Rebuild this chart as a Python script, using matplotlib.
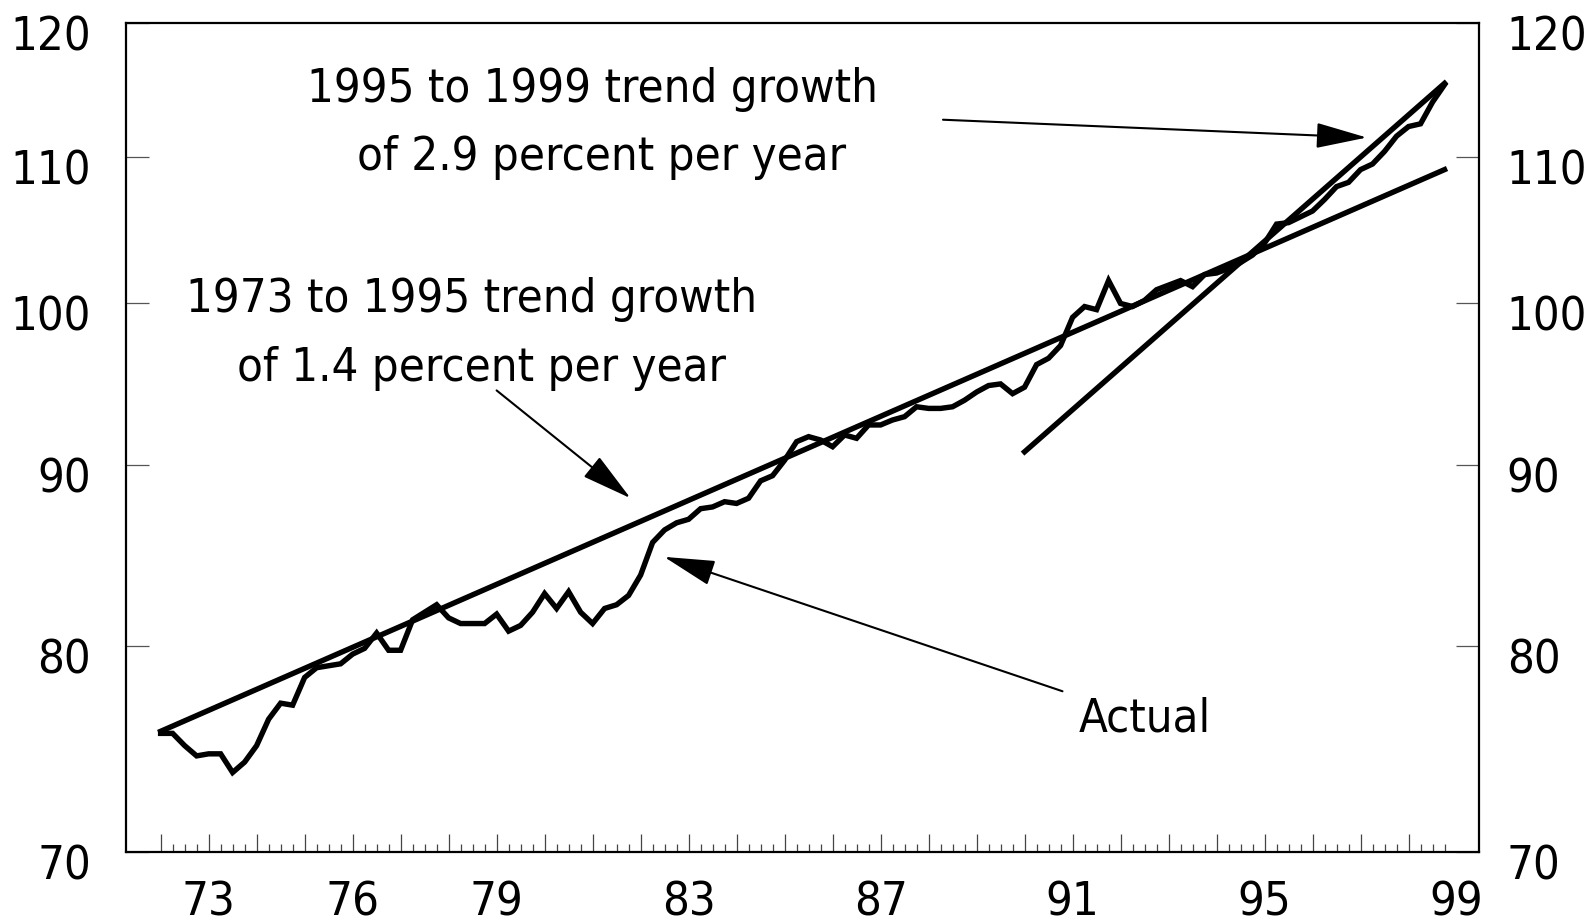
import os
import numpy as np
import matplotlib
matplotlib.use("Agg")
import matplotlib.pyplot as plt
from matplotlib import font_manager
from matplotlib.ticker import NullLocator
from matplotlib.transforms import ScaledTranslation

# quarterly productivity index, 1972Q1 .. 1998Q4 (log scale)
quarters = np.arange(1972, 1999, 0.25)
actual = [
    75.6, 75.6, 75.0, 74.5,     # 1972
    74.6, 74.6, 73.7, 74.2,     # 1973
    75.0, 76.3, 77.1, 77.0,     # 1974
    78.4, 78.9, 79.0, 79.1,     # 1975
    79.6, 79.9, 80.7, 79.8,     # 1976
    79.8, 81.4, 81.8, 82.2,     # 1977
    81.5, 81.2, 81.2, 81.2,     # 1978
    81.7, 80.8, 81.1, 81.8,     # 1979
    82.8, 82.0, 82.9, 81.8,     # 1980
    81.2, 82.0, 82.2, 82.7,     # 1981
    83.8, 85.6, 86.3, 86.7,     # 1982
    86.9, 87.5, 87.6, 87.9,     # 1983
    87.8, 88.1, 89.1, 89.4,     # 1984
    90.3, 91.4, 91.7, 91.5,     # 1985
    91.1, 91.8, 91.6, 92.4,     # 1986
    92.4, 92.7, 92.9, 93.5,     # 1987
    93.4, 93.4, 93.5, 93.9,     # 1988
    94.4, 94.8, 94.9, 94.3,     # 1989
    94.7, 96.1, 96.5, 97.3,     # 1990
    99.1, 99.8, 99.6, 101.5,    # 1991
    100.0, 99.8, 100.2, 100.9,  # 1992
    101.2, 101.5, 101.1, 101.9, # 1993
    102.0, 102.3, 102.7, 103.2, # 1994
    104.0, 105.3, 105.4, 105.8, # 1995
    106.2, 107.0, 107.9, 108.2, # 1996
    109.1, 109.5, 110.4, 111.5, # 1997
    112.2, 112.4, 114.0, 115.3, # 1998
]

# trend lines (constant growth -> straight on log axis)
trend_7395_years = [1972.0, 1998.75]
trend_7395_values = [75.7, 109.1]
trend_9599_years = [1990.0, 1998.75]
trend_9599_values = [90.8, 115.4]

year_ticks = np.arange(1972, 1999)
quarter_ticks = np.arange(1972, 1998.76, 0.25)
label_years = [1973, 1976, 1979, 1983, 1987, 1991, 1995, 1999]
label_text = ["73", "76", "79", "83", "87", "91", "95", "99"]
y_ticks = [70, 80, 90, 100, 110, 120]

# narrow sans face if there is one, plain DejaVu otherwise
cond = [f.fname for f in font_manager.fontManager.ttflist
        if os.path.basename(f.fname) == "DejaVuSansCondensed.ttf"]
if cond:
    font = font_manager.FontProperties(fname=cond[0], size=33.8)
else:
    font = font_manager.FontProperties(family="DejaVu Sans", size=30.4)

fig = plt.figure(figsize=(15.9, 9.23), dpi=100)
ax = fig.add_axes([0.0792, 0.0773, 0.8509, 0.8975])

ax.plot(quarters, actual, color="black", lw=3.9, solid_joinstyle="miter")
ax.plot(trend_7395_years, trend_7395_values, color="black", lw=3.9)
ax.plot(trend_9599_years, trend_9599_values, color="black", lw=3.9)

ax.set_yscale("log")
ax.set_ylim(70, 120)
ax.set_xlim(1971.277, 1999.465)

for s in ax.spines.values():
    s.set_linewidth(1.6)

ax.set_yticks(y_ticks, labels=[str(v) for v in y_ticks])
ax.yaxis.set_minor_locator(NullLocator())
ax.tick_params(axis="y", which="major", direction="in", length=16.8, width=0.9,
               color="#555555", left=True, right=True, labelleft=True,
               labelright=True, pad=20)

ax.set_xticks(year_ticks)
ax.set_xticks(quarter_ticks, minor=True)
ax.tick_params(axis="x", which="major", direction="in", length=12.7, width=0.9,
               color="#444444", labelbottom=False)
ax.tick_params(axis="x", which="minor", direction="in", length=6, width=0.9,
               color="#444444")

sec = ax.secondary_xaxis("bottom")
sec.set_xticks(label_years, labels=label_text)
sec.tick_params(length=0, pad=21)
sec.spines["bottom"].set_visible(False)
for lab in sec.get_xticklabels():
    lab.set_fontproperties(font)

# y labels sit a bit below their ticks
down = ScaledTranslation(0, -10 / 100, fig.dpi_scale_trans)
left_shift = ScaledTranslation(-7 / 100, -10 / 100, fig.dpi_scale_trans)
for t in ax.yaxis.get_major_ticks():
    t.label1.set_fontproperties(font)
    t.label2.set_fontproperties(font)
    t.label1.set_transform(t.label1.get_transform() + left_shift)
    t.label2.set_transform(t.label2.get_transform() + down)

ax.text(1980.99, 114.0, "1995 to 1999 trend growth", fontproperties=font,
        ha="center", va="baseline")
ax.text(1981.19, 109.1, "of 2.9 percent per year", fontproperties=font,
        ha="center", va="baseline")
ax.text(1978.47, 99.45, "1973 to 1995 trend growth", fontproperties=font,
        ha="center", va="baseline")
ax.text(1978.69, 95.1, "of 1.4 percent per year", fontproperties=font,
        ha="center", va="baseline")
ax.text(1992.51, 75.7, "Actual", fontproperties=font, ha="center", va="baseline")

arrow = dict(arrowstyle="-|>,head_length=32,head_width=8", mutation_scale=1,
             lw=1.5, color="black", shrinkA=0, shrinkB=0)
ax.annotate("", xy=(1997.13, 111.4), xytext=(1988.30, 112.7), arrowprops=arrow)
ax.annotate("", xy=(1981.79, 88.1), xytext=(1979.0, 94.5), arrowprops=arrow)
ax.annotate("", xy=(1982.49, 84.8), xytext=(1990.79, 77.7), arrowprops=arrow)

fig.savefig("out.png", dpi=100)
